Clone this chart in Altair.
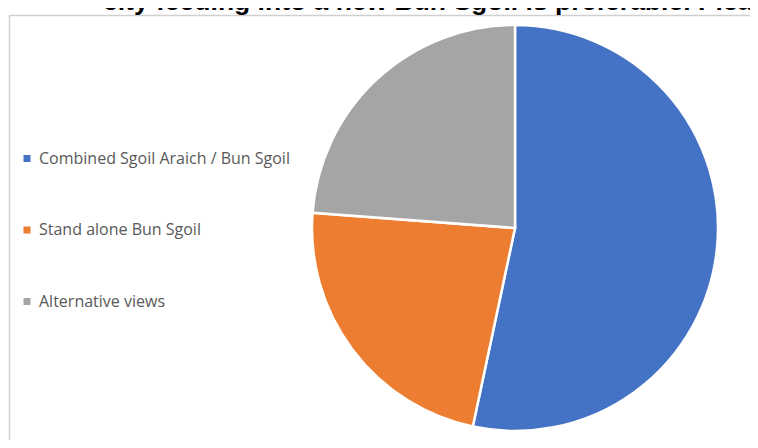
import altair as alt
import pandas as pd

labels = ["Combined Sgoil Araich / Bun Sgoil", "Stand alone Bun Sgoil", "Alternative views"]
values = [56, 24, 25]
colors = ["#4472C4", "#ED7D31", "#A5A5A5"]
title_text = "city feeding into a new Bun Sgoil is preferable. Plea"

df = pd.DataFrame({"label": labels, "value": values, "idx": list(range(len(labels)))})

pie = alt.Chart(df).mark_arc(stroke="white", strokeWidth=2.5, radius=203).encode(
    theta=alt.Theta("value:Q", stack=True),
    color=alt.Color(
        "label:N",
        sort=labels,
        scale=alt.Scale(domain=labels, range=colors),
        legend=alt.Legend(
            title=None,
            orient="none",
            legendX=11,
            legendY=142.5,
            symbolType="square",
            symbolSize=49,
            symbolStrokeWidth=0,
            labelFont="Open Sans",
            labelFontSize=16,
            labelColor="#595959",
            labelOffset=4,
            rowPadding=55.5,
            labelLimit=400,
            padding=0,
        ),
    ),
    order=alt.Order("idx:Q"),
    x=alt.value(507),
    y=alt.value(220),
)

title = alt.Chart(pd.DataFrame({"t": [title_text]})).mark_text(
    font="Liberation Sans", fontWeight="bold", fontSize=26.5, align="left",
    baseline="alphabetic", color="#000000"
).encode(text="t:N", x=alt.value(95), y=alt.value(2))

frame_h = alt.Chart(pd.DataFrame({"a": [0]})).mark_rule(color="#d0d0d0", strokeWidth=1.5).encode(
    x=alt.value(1), x2=alt.value(742), y=alt.value(7.5)
)
frame_v = alt.Chart(pd.DataFrame({"a": [0]})).mark_rule(color="#d0d0d0", strokeWidth=1.5).encode(
    x=alt.value(1.5), y=alt.value(7), y2=alt.value(432)
)

chart = alt.layer(frame_h, frame_v, title, pie).properties(
    width=742, height=432, autosize=alt.AutoSizeParams(type="none"), padding=0
).configure_view(stroke=None)

chart.save("out.html", embed_options={"renderer": "svg", "actions": False})
